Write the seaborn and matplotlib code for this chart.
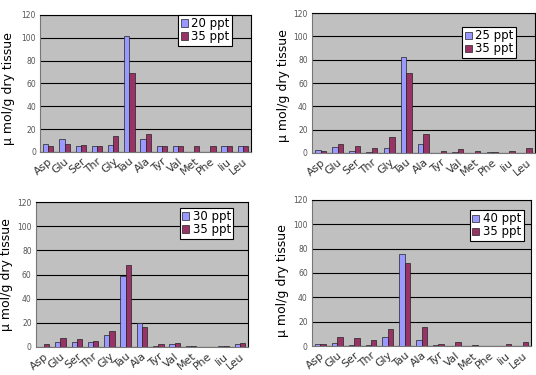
import numpy as np
import pandas as pd
import seaborn as sns
import matplotlib.pyplot as plt

amino = ['Asp', 'Glu', 'Ser', 'Thr', 'Gly', 'Tau', 'Ala', 'Tyr', 'Val', 'Met', 'Phe', 'Iiu', 'Leu']

# panel 1: 20 ppt vs 35 ppt
p20 = [7.3, 11.4, 5, 5, 6, 102, 11.4, 5, 5, 0, 0, 5, 5]
p35_a = [5, 7.3, 6, 5, 13.7, 69, 15.7, 5, 5, 5, 5, 5, 5]
# panel 2: 25 ppt vs 35 ppt
p25 = [2.6, 5.2, 1.7, 0.9, 4.3, 82, 8, 0, 0.9, 0, 0.5, 0, 0]
p35_b = [2, 7.5, 6.3, 4.6, 14, 68.4, 16.4, 1.7, 3.2, 1.7, 0.8, 1.7, 4]
# panel 3: 30 ppt vs 35 ppt
p30 = [0.3, 4.1, 4.1, 4.1, 10.2, 58.8, 20.2, 0.5, 2.2, 0.5, 0.3, 0.5, 2.2]
p35_c = [2, 7.7, 6.9, 5, 13.5, 68.2, 16.3, 2.2, 3.6, 1, 0.3, 1, 3.6]
# panel 4: 40 ppt vs 35 ppt
p40 = [1.9, 2.7, 1.1, 0.8, 7.4, 76, 5.2, 0.8, 0.5, 0, 0.3, 0, 0]
p35_d = [1.9, 7.4, 6.6, 4.7, 13.7, 67.9, 15.9, 1.9, 3.6, 1, 0.5, 1.9, 3.6]

# (label, series, 35 ppt series, axes rect, legend anchor, ylabel coords)
panels = [
    ('20 ppt', p20, p35_a, [0.075, 0.595, 0.393, 0.365], (0.91, 1.0), (-0.118, 0.46)),
    ('25 ppt', p25, p35_b, [0.582, 0.592, 0.416, 0.373], (0.915, 0.90), (-0.099, 0.48)),
    ('30 ppt', p30, p35_c, [0.067, 0.075, 0.396, 0.386], (0.93, 0.96), (-0.108, 0.50)),
    ('40 ppt', p40, p35_d, [0.582, 0.077, 0.409, 0.390], (0.965, 0.93), (-0.105, 0.445)),
]

fig = plt.figure(figsize=(5.36, 3.75), dpi=100)
palette = ['#9999FF', '#993366']

for name, a, b, rect, legpos, labpos in panels:
    ax = fig.add_axes(rect)
    df = pd.DataFrame({
        'amino': amino * 2,
        'value': a + b,
        'group': [name] * len(amino) + ['35 ppt'] * len(amino),
    })
    sns.barplot(data=df, x='amino', y='value', hue='group', palette=palette,
                width=0.64, gap=0, edgecolor='#222222', linewidth=0.5,
                saturation=1, ax=ax, zorder=3)
    ax.set_facecolor('#C0C0C0')
    ax.set_ylim(0, 120)
    ax.set_xlim(-0.5, 12.5)
    ax.set_yticks(np.arange(0, 121, 20))
    ax.yaxis.grid(True, color='black', linewidth=0.8, zorder=0)
    ax.set_axisbelow(True)
    ax.tick_params(axis='y', labelsize=5.5, labelcolor='#555555', length=0, pad=3)
    ax.tick_params(axis='x', labelsize=7.8, labelcolor='#333333', length=0, pad=3)
    plt.setp(ax.get_xticklabels(), rotation=40, ha='right', rotation_mode='anchor')
    for s in ['top', 'right']:
        ax.spines[s].set_color('black')
        ax.spines[s].set_linewidth(0.8)
    for s in ['left', 'bottom']:
        ax.spines[s].set_color('#777777')
        ax.spines[s].set_linewidth(0.8)
    ax.set_xlabel('')
    ax.set_ylabel('μ mol/g dry tissue', fontsize=9)
    ax.yaxis.set_label_coords(*labpos)
    leg = ax.legend(loc='upper right', bbox_to_anchor=legpos, fontsize=8.5,
                    frameon=True, fancybox=False, edgecolor='black',
                    framealpha=1, handlelength=0.6, handleheight=0.6,
                    handletextpad=0.3, borderpad=0.2, labelspacing=0.0,
                    borderaxespad=0)
    leg.get_frame().set_linewidth(0.8)

fig.savefig('out.png', dpi=100)
